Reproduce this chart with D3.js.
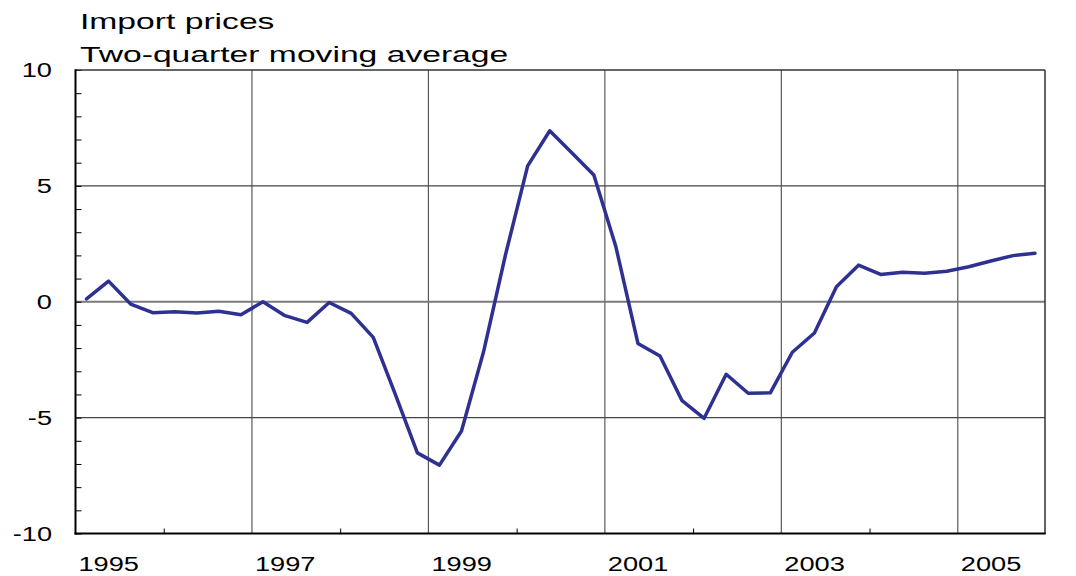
<!DOCTYPE html>
<html>
<head>
<meta charset="utf-8">
<script src="https://cdn.jsdelivr.net/npm/d3@7/dist/d3.min.js"></script>
<style>
  html, body { margin: 0; padding: 0; background: #fff; }
  svg { display: block; }
  text { font-family: "Liberation Sans", Arial, Helvetica, sans-serif; fill: #000; }
</style>
</head>
<body>
<svg id="chart" width="1076" height="576"></svg>
<script>
// Import prices, two-quarter moving average, quarterly 1995–2005
const years = [1995, 1996, 1997, 1998, 1999, 2000, 2001, 2002, 2003, 2004, 2005];
const quarters = [1, 2, 3, 4];
const importPrices = [
  0.12, 0.89, -0.10, -0.47,   // 1995
  -0.43, -0.49, -0.41, -0.56, // 1996
  0.00, -0.60, -0.89, -0.03,  // 1997
  -0.50, -1.54, -4.00, -6.52, // 1998
  -7.05, -5.58, -2.16, 2.05,  // 1999
  5.86, 7.38, 6.43, 5.47,     // 2000
  2.37, -1.80, -2.34, -4.27,  // 2001
  -5.03, -3.13, -3.95, -3.93, // 2002
  -2.18, -1.35, 0.65, 1.58,   // 2003
  1.18, 1.27, 1.23, 1.32,     // 2004
  1.51, 1.76, 1.99, 2.09      // 2005
];
const yTickLabels = [10, 5, 0, -5, -10];
const xTickLabels = [1995, 1997, 1999, 2001, 2003, 2005];
const titleLines = ["Import prices", "Two-quarter moving average"];

// quarterly observations placed at the middle of each quarter
const series = [];
years.forEach((yr, i) => quarters.forEach((q, j) => {
  series.push({ t: yr + (q - 0.5) / 4, v: importPrices[i * 4 + j] });
}));

const svg = d3.select("#chart");
const plotLeft = 75.5, plotRight = 1045, plotTop = 70, plotBottom = 533.5;

const x = d3.scaleLinear().domain([1995, 2006]).range([plotLeft, plotRight + 1]);
const y = d3.scaleLinear().domain([-10, 10]).range([plotBottom, plotTop]);

// vertical gridlines at odd years
svg.append("g")
  .selectAll("line")
  .data([1997, 1999, 2001, 2003, 2005])
  .join("line")
  .attr("x1", d => x(d)).attr("x2", d => x(d))
  .attr("y1", plotTop).attr("y2", plotBottom)
  .attr("stroke", "#5a5a5a").attr("stroke-width", 1.2);

// horizontal gridlines
svg.append("g")
  .selectAll("line")
  .data([5, 0, -5])
  .join("line")
  .attr("x1", plotLeft).attr("x2", plotRight)
  .attr("y1", d => y(d)).attr("y2", d => y(d))
  .attr("stroke", d => d === 0 ? "#7a7a7a" : "#444")
  .attr("stroke-width", d => d === 0 ? 1.8 : 1.1);

// minor ticks on the y axis (inside the frame)
const yAxis = d3.axisRight(y)
  .tickValues(d3.range(-10, 11, 1))
  .tickSize(6)
  .tickFormat("");
svg.append("g")
  .attr("transform", `translate(${plotLeft},0)`)
  .call(yAxis)
  .call(g => g.select(".domain").remove())
  .call(g => g.selectAll(".tick line").attr("stroke", "#000").attr("stroke-width", 1));

// minor ticks on the x axis at even years (pointing up)
const xAxis = d3.axisTop(x)
  .tickValues([1996, 1998, 2000, 2002, 2004])
  .tickSize(5)
  .tickFormat("");
svg.append("g")
  .attr("transform", `translate(0,${plotBottom})`)
  .call(xAxis)
  .call(g => g.select(".domain").remove())
  .call(g => g.selectAll(".tick line").attr("stroke", "#000").attr("stroke-width", 1));

// frame
svg.append("line").attr("x1", plotLeft).attr("x2", plotRight).attr("y1", plotTop).attr("y2", plotTop)
  .attr("stroke", "#333").attr("stroke-width", 1.5);
svg.append("line").attr("x1", plotRight).attr("x2", plotRight).attr("y1", plotTop).attr("y2", plotBottom)
  .attr("stroke", "#333").attr("stroke-width", 1.5);
svg.append("line").attr("x1", plotLeft).attr("x2", plotLeft).attr("y1", plotTop - 0.75).attr("y2", plotBottom + 1)
  .attr("stroke", "#000").attr("stroke-width", 2);
svg.append("line").attr("x1", plotLeft - 1).attr("x2", plotRight + 0.75).attr("y1", plotBottom).attr("y2", plotBottom)
  .attr("stroke", "#000").attr("stroke-width", 2);

// data line
const line = d3.line().x(d => x(d.t)).y(d => y(d.v));
svg.append("path")
  .datum(series)
  .attr("d", line)
  .attr("fill", "none")
  .attr("stroke", "#2e3192")
  .attr("stroke-width", 3.5)
  .attr("stroke-linejoin", "round")
  .attr("stroke-linecap", "round");

// y labels
svg.append("g")
  .selectAll("text")
  .data(yTickLabels)
  .join("text")
  .attr("transform", d => `translate(52,${y(d) + 7}) scale(1.36,1)`)
  .attr("text-anchor", "end")
  .style("font-size", "20px")
  .text(d => d);

// x labels, set just right of each gridline
svg.append("g")
  .selectAll("text")
  .data(xTickLabels)
  .join("text")
  .attr("transform", d => `translate(${x(d) + 3},571) scale(1.36,1)`)
  .attr("text-anchor", "start")
  .style("font-size", "20px")
  .text(d => d);

// titles
svg.append("g")
  .selectAll("text")
  .data(titleLines)
  .join("text")
  .attr("transform", (d, i) => `translate(80,${28.5 + i * 33.5}) scale(1.53,1)`)
  .style("font-size", "22px")
  .text(d => d);
</script>
</body>
</html>
